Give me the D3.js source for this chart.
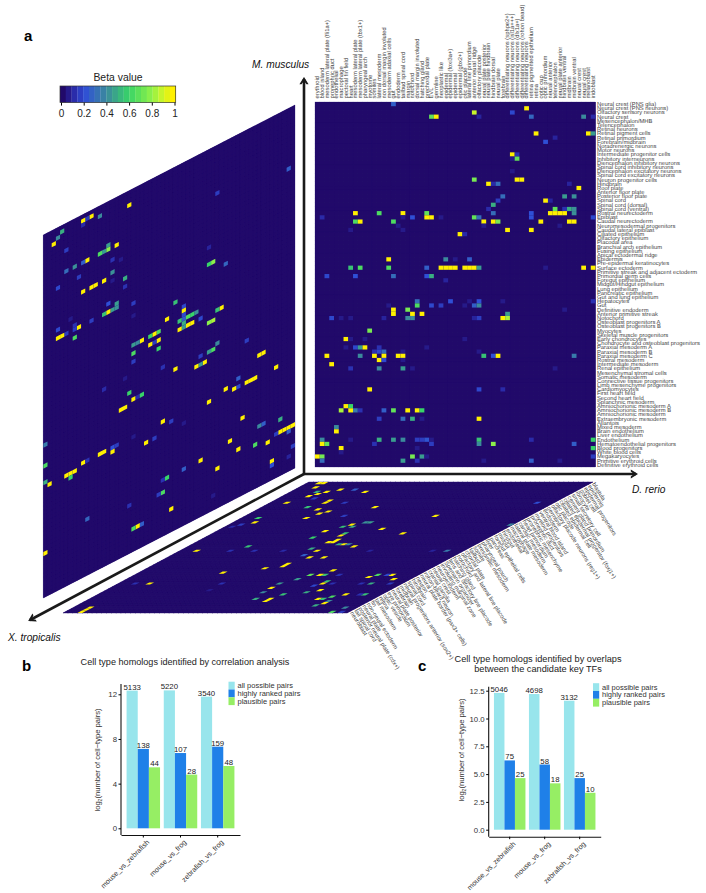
<!DOCTYPE html>
<html>
<head>
<meta charset="utf-8">
<script src="https://cdnjs.cloudflare.com/ajax/libs/d3/7.8.5/d3.min.js"></script>
<style>
  body { margin: 0; background: #fff; }
  svg { display: block; font-family: "Liberation Sans", Arial, sans-serif; }
  .tiny { font-size: 5.8px; fill: #444; text-rendering: geometricPrecision; }
</style>
</head>
<body>
<div id="chart"></div>
<script>
// cell types, one list per species
const mouseTypes = ["Neural crest (PNS glia)","Neural crest (PNS neurons)","Olfactory sensory neurons","Neural crest","Mesencephalon/MHB","Telencephalon","Retinal neurons","Retinal pigment cells","Retinal primordium","Forebrain/midbrain","Noradrenergic neurons","Motor neurons","Intermediate progenitor cells","Inhibitory interneurons","Diencephalon inhibitory neurons","Spinal cord inhibitory neurons","Diencephalon excitatory neurons","Spinal cord excitatory neurons","Neuron progenitor cells","Hindbrain","Roof plate","Anterior floor plate","Posterior floor plate","Spinal cord","Spinal cord (dorsal)","Spinal cord (ventral)","Rostral neurectoderm","Epiblast","Caudal neurectoderm","Neuromesodermal progenitors","Caudal lateral epiblast","Ciliated epithelium","Olfactory epithelium","Placodal area","Branchial arch epithelium","Fusing epithelium","Apical ectodermal ridge","Epidermis","Pre-epidermal keratinocytes","Surface ectoderm","Primitive streak and adjacent ectoderm","Primordial germ cells","Foregut epithelium","Midgut/Hindgut epithelium","Lung epithelium","Pancreatic epithelium","Gut and lung epithelium","Hepatocytes","Gut","Definitive endoderm","Anterior primitive streak","Notochord","Osteoblast progenitors A","Osteoblast progenitors B","Myocytes","Skeletal muscle progenitors","Early chondrocytes","Chondrocyte and osteoblast progenitors","Paraxial mesoderm A","Paraxial mesoderm B","Paraxial mesoderm C","Rostral mesoderm","Intermediate mesoderm","Renal epithelium","Mesenchymal stromal cells","Somatic mesoderm","Connective tissue progenitors","Limb mesenchyme progenitors","Cardiomyocytes","First heart field","Second heart field","Splanchnic mesoderm","Amniochorionic mesoderm A","Amniochorionic mesoderm B","Amniochorionic mesoderm","Extraembryonic mesoderm","Allantois","Mixed mesoderm","Brain endothelium","Liver endothelium","Endothelium","Hematoendothelial progenitors","Blood progenitors","White blood cells","Megakaryocytes","Primitive erythroid cells","Definitive erythroid cells"]
const fishTypes = ["erythroid","blood island","mesoderm lateral plate (fli1a+)","pronephric duct","endothelial","macrophage","pectoral fin field","heart","mesoderm lateral plate","mesoderm lateral plate (tbx1+)","pharyngeal arch","myotome","somites","lateral mesoderm","non dorsal margin involuted","mesoderm adaxial cells","gut","endoderm","tailbud spinal cord","margin","notochord","dorsal margin involuted","hatching gland","prechordal plate","EVL","germline","neoplastic like","epidermal","epidermal (foxi3a+)","epidermal","epidermal (gbx2+)","otic placode","lateral line primordium","anterior neural ridge","olfactory placode","neural plate posterior","neural plate hindbrain","hindbrain dorsal","neural plate","forebrain","differentiating neurons (sphpe2+)","differentiating neurons (isl1a+++)","differentiating neurons (dlx1a+)","differentiating neurons (rohon beard)","differentiating neurons","retina pigmented epithelium","retina","optic cup","optic primordium","neural anterior","telencephalon","neural plate anterior","hindbrain ventral","midbrain","midbrain ventral","neural crest","neural crest","melanoblast","iridoblast"]
const frogTypes = ["blastula","epidermis","epidermal progenitors","goblet cell","ionocyte","small secretory cell","cement gland primordium","ciliated epidermal progenitor (foxj1+)","ciliated epidermal cell","otic placode","olfactory placode neurons (reg1+)","germline","endoderm","ventral blood island","myeloid progenitors","pronephric duct","pronephric mesenchyme","heart primordium","cardiac mesoderm","lateral plate mesoderm","macrophage","endothelial","hindgut","midgut","foregut epithelial cells","pancreas","liver","pharyngeal pouch","presomitic mesoderm","somite","tailbud","chordal plate","olfactory and lateral line placode","notochord","hatching gland","lens and olfactory line placode","Spemann organizer","involuting marginal zone","neuroectoderm","neural crest","cranial ganglia","rohon-beard neuron","neural plate border (pax3+ cells)","neuron","hindbrain","spinal cord","neural progenitors anterior (sox2+)","midbrain","forebrain","neural plate posterior","eye primordium","optic vesicle","retina","tail mesoderm","fin","non-neural ectoderm","neural plate","posterior neural plate (cdx+)","tail spinal cord","neuroblast"]

// beta values that are not zero: [row, column, beta]
const mainCells = [[0,16,.25],[1,44,1],[2,33,.9],[2,41,.18],[3,24,.7],[3,25,1],[3,34,.08],[3,45,.28],[3,56,.4],[3,58,.1],[7,46,1],[7,57,1],[7,58,.45],[9,48,.2],[8,50,.08],[12,41,1],[12,42,.12],[13,41,.05],[13,42,.7],[16,41,.05],[18,33,.75],[18,42,1],[18,43,1],[19,36,1],[19,37,.1],[19,38,.3],[19,53,.08],[20,55,1],[22,39,.3],[22,52,.45],[22,54,.42],[23,38,.15],[23,48,1],[23,49,.08],[24,37,.5],[25,36,.1],[25,50,.7],[25,52,.12],[25,53,.5],[25,54,.42],[26,54,.42],[26,8,1],[26,13,.65],[26,18,1],[26,23,.7],[26,37,.3],[26,45,.2],[26,49,1],[26,50,1],[26,51,1],[26,52,1],[27,1,.1],[27,23,1],[27,24,1],[27,18,.05],[27,20,.2],[27,26,.05],[27,33,.7],[27,34,.3],[27,45,.2],[27,58,.18],[28,8,.65],[28,9,1],[28,16,.65],[28,35,1],[28,37,1],[28,38,.75],[28,47,1],[28,53,1],[28,54,1],[29,17,.05],[29,35,.05],[29,51,.05],[30,7,.05],[30,18,.05],[30,40,1],[30,45,1],[31,30,1],[31,31,.1],[37,15,1],[37,27,.4],[37,29,.05],[37,32,.25],[39,7,.55],[39,9,.65],[39,15,.65],[39,23,.25],[39,26,1],[39,27,1],[39,28,1],[39,29,1],[39,31,1],[39,32,1],[39,33,1],[39,34,.45],[39,48,.05],[39,56,1],[39,58,1],[41,2,.18],[41,8,.2],[41,16,.3],[41,23,.2],[41,24,.5],[42,27,.08],[47,21,.3],[47,28,.2],[47,32,.05],[47,34,.2],[47,39,.05],[47,58,.12],[48,15,.05],[48,21,.65],[48,24,.18],[48,26,.15],[48,31,.05],[48,33,.25],[48,34,.4],[49,16,1],[49,19,.75],[49,52,.05],[50,16,1],[50,20,1],[50,22,1],[50,40,.45],[51,3,.18],[51,5,.05],[51,7,.05],[51,14,.08],[51,19,.4],[51,20,.4],[51,33,.08],[51,34,.15],[51,39,1],[51,40,.85],[54,11,.75],[56,6,1],[56,7,.05],[56,10,.05],[56,31,.05],[58,6,.05],[58,8,.18],[58,9,.45],[58,10,1],[58,13,.12],[58,23,.05],[59,12,.12],[59,13,.18],[59,14,.3],[59,18,.05],[59,34,.05],[60,2,1],[60,9,.4],[60,12,1],[60,14,1],[60,17,1],[60,18,1],[60,35,.55],[60,37,.2],[60,38,1],[60,54,.35],[61,13,1],[61,14,.18],[61,18,.05],[62,3,1],[63,7,.12],[63,13,.4],[63,18,.45],[63,20,.05],[63,50,.05],[68,11,1],[68,34,.18],[68,39,.1],[72,6,1],[72,7,.6],[73,5,.85],[73,7,1],[73,8,.35],[73,9,.12],[73,14,.25],[73,16,.7],[73,19,1],[73,21,1],[73,22,.6],[75,13,.15],[75,18,.3],[75,20,.5],[75,22,.05],[75,34,1],[77,4,.4],[78,4,1],[80,1,.4],[80,7,.05],[80,13,.5],[80,16,.45],[80,18,.4],[80,21,.15],[80,22,.15],[80,23,.22],[80,24,.05],[80,34,.55],[80,45,.1],[80,58,.6],[81,1,1],[81,2,.7],[81,12,.12],[81,24,.15],[81,34,.4],[81,37,.8],[81,54,.25],[82,5,1],[82,21,.05],[82,58,.6],[83,5,.05],[84,0,1],[84,1,.75],[84,20,.75],[84,22,.45],[84,23,.05],[84,58,.15],[85,1,.3],[85,18,.45],[85,21,.12],[85,35,.05],[85,45,.25],[85,51,.05]]
const leftCells = [[14,58,.25],[11,41,.15],[3,20,1],[2,13,.4],[1,11,1],[1,10,.15],[1,9,1],[2,9,.1],[1,4,.5],[2,3,.4],[3,2,1],[6,5,.15],[10,15,.45],[11,15,.8],[11,17,1],[11,14,.45],[11,13,.65],[23,39,.08],[14,16,.12],[15,18,.05],[11,10,1],[11,9,.25],[11,7,.42],[11,5,.3],[17,16,.42],[27,40,.8],[27,39,.6],[29,43,.28],[14,8,.15],[20,19,.5],[19,16,.05],[18,14,1],[18,12,1],[18,11,1],[18,9,1],[22,19,.12],[14,3,.18],[24,15,.2],[27,21,.15],[32,31,.55],[25,17,.45],[26,17,.42],[26,16,.45],[26,15,1],[26,14,.55],[34,33,.18],[35,33,1],[36,33,.18],[37,33,.25],[38,33,.5],[30,21,.05],[39,42,1],[39,41,.55],[37,36,.42],[37,35,.6],[37,34,.65],[39,37,.18],[35,29,1],[37,32,.55],[41,40,.85],[41,39,.8],[26,11,.15],[23,6,.05],[25,7,.12],[26,8,1],[26,7,.15],[24,3,.18],[39,35,1],[39,34,1],[39,33,.45],[39,32,1],[26,5,.15],[26,4,1],[26,3,1],[28,7,.65],[37,27,.65],[37,26,1],[37,25,.6],[39,27,1],[39,26,.15],[39,25,1],[41,27,.6],[37,23,1],[37,22,.4],[37,21,.45],[39,21,.65],[47,41,.4],[48,40,.65],[48,39,.45],[50,48,.15],[48,37,.15],[41,21,.15],[46,28,.12],[48,31,1],[50,38,1],[50,37,.45],[50,36,1],[55,51,1],[55,52,1],[60,55,1],[58,46,.25],[60,48,1],[60,49,1],[60,50,1],[60,46,.18],[60,45,1],[59,43,1],[60,39,1],[68,47,1],[73,56,.5],[72,52,.25],[72,51,.4],[76,59,1],[76,58,1],[76,57,1],[76,56,1],[77,58,.25],[81,59,.15],[83,58,.08],[76,55,.15],[72,44,1],[75,46,1],[76,50,.65],[77,53,1],[82,54,1],[83,54,.2],[77,41,1],[73,37,1],[73,33,.25],[73,29,.6],[73,28,.12],[76,28,.65],[76,27,.15],[83,40,.05],[81,30,1],[75,20,.12],[73,10,.28],[81,23,.25],[81,22,1],[81,21,.65],[76,0,1],[50,0,.35],[55,0,.65],[59,0,.5],[60,1,1],[60,7,1],[60,6,1],[60,5,1],[61,6,.6],[59,9,1],[59,10,.12],[59,13,1],[59,14,1],[59,16,.2],[59,17,.15],[60,16,1],[59,21,.05],[62,24,1],[62,26,.15],[59,28,1],[60,30,.15],[62,33,.05],[44,19,.05],[44,14,.1],[48,20,.6],[50,21,1],[50,22,.1],[50,23,.6],[51,18,1],[51,19,1]]
const bottomCells = [[9,55,.2],[15,39,1],[19,58,.4],[23,39,1],[21,33,1],[11,23,1],[3,12,.25],[4,15,1],[3,9,1],[4,7,1],[5,6,1],[6,5,1],[0,2,1],[0,3,1],[2,3,1],[8,11,1],[9,11,1],[9,15,.15],[12,12,1],[13,15,1],[14,14,1],[11,9,.55],[15,20,.15],[16,13,1],[18,27,.42],[18,28,.45],[19,25,1],[20,24,.55],[20,26,.5],[22,22,1],[25,22,.6],[23,27,.55],[24,27,1],[26,28,1],[27,28,1],[27,27,1],[28,31,1],[28,30,.5],[29,34,1],[28,32,.4],[31,28,1],[30,26,.5],[34,29,1],[34,32,1],[33,27,.25],[31,39,.08],[31,52,.08],[31,55,.35],[40,39,1],[42,39,.55],[42,38,1],[42,36,.7],[42,42,.12],[43,49,1],[42,50,.65],[42,53,1],[42,52,.18],[44,55,1],[46,52,.5],[46,50,.12],[46,56,.15],[45,42,.55],[46,42,1],[47,41,.18],[46,44,.12],[50,42,.5],[49,44,1],[51,51,1],[51,55,.55],[51,54,.12],[52,49,.65],[53,47,1],[55,50,1],[54,50,.4],[56,49,.5],[57,56,.4],[59,55,.65],[59,57,.15],[57,3,1],[58,3,1],[59,3,1],[9,3,1],[16,3,.6],[18,4,1],[19,2,.15],[20,1,.1],[31,3,1],[31,10,.12],[29,12,.55],[31,15,.12],[31,21,.1],[39,24,1],[38,27,1],[37,27,1],[41,17,1],[46,6,1],[46,3,.12],[46,21,.12],[49,21,.05],[53,34,.5],[50,33,.4],[48,33,1],[46,33,.45],[53,37,1],[54,37,1],[51,38,.55],[44,35,.45],[4,5,.5],[7,7,.15],[53,48,.55]]

// bar charts
const pairTypes = ["all possible pairs","highly ranked pairs","plausible pairs"]
const comparisons = ["mouse_vs_zebrafish","mouse_vs_frog","zebrafish_vs_frog"]
const corrLog2 = [[12.33,7.11,5.46],[12.35,6.74,4.81],[11.79,7.31,5.58]]
const corrCounts = [[5133,138,44],[5220,107,28],[3540,159,48]]
const tfLog2 = [[12.3,6.23,4.64],[12.2,5.86,4.17],[11.6,4.64,3.32]]
const tfCounts = [[5046,75,25],[4698,58,18],[3132,25,10]]

const corrTicks = [0,4,8,12]
const tfTicks = [0,2.5,5,7.5,10,12.5]
const betaTicks = [0,.2,.4,.6,.8,1]

const barColors = ["#98e5ec","#1f80e8","#96ee64"]
const color = d3.scaleLinear()
  .domain([0,.1,.2,.4,.6,.8,.9,1])
  .range(["#21096a","#2a2aa8","#2f4fd6","#3b8a9c","#38d468","#8cf04a","#c8f52a","#fff000"])

let width = 706
let height = 893

let svg = d3.select("#chart").append("svg")
  .attr("width", width)
  .attr("height", height)

/*
  One heatmap. The group transform does the slanting, the scales only
  know about rows and columns.
*/
function heatmap(transform, rows, cols, cells, w, h) {
  let x = d3.scaleBand().domain(d3.range(cols.length)).range([0, w])
  let y = d3.scaleBand().domain(d3.range(rows.length)).range([0, h])
  let g = svg.append("g").attr("transform", transform)
  let grid = []
  y.domain().forEach(r => x.domain().forEach(c => grid.push([r, c])))

  // solid panel first, otherwise white shows through the cell seams
  g.append("rect")
    .attr("width", w)
    .attr("height", h)
    .attr("fill", color(0))

  g.selectAll(".bg").data(grid).enter().append("rect")
    .attr("class", "bg")
    .attr("x", d => x(d[1]))
    .attr("y", d => y(d[0]))
    .attr("width", x.bandwidth())
    .attr("height", y.bandwidth())
    .attr("fill", color(0))
    .attr("stroke", "#25106e")
    .attr("stroke-width", .25)

  g.selectAll(".hit").data(cells).enter().append("rect")
    .attr("class", "hit")
    .attr("x", d => x(d[1]))
    .attr("y", d => y(d[0]))
    .attr("width", x.bandwidth())
    .attr("height", y.bandwidth())
    .attr("fill", d => color(d[2]))
  return {x: x, y: y}
}

// main panel, zebrafish by mouse
let main = heatmap("translate(315,102)", mouseTypes, fishTypes, mainCells, 280.5, 365)
heatmap("matrix(1,-0.5166,0,1,43.3,235)", mouseTypes, frogTypes, leftCells, 251.7, 363)
let floorSkew = -1.878
let floor = heatmap("matrix(1,0," + floorSkew + ",1,309,482)", frogTypes, fishTypes, bottomCells, 284, 131)

svg.append("g").selectAll("text").data(mouseTypes).enter().append("text")
  .attr("class", "tiny")
  .attr("x", 597)
  .attr("y", (d, i) => 102 + main.y(i) + main.y.bandwidth() / 2 + 1.9)
  .text(d => d)

svg.append("g").selectAll("text").data(fishTypes).enter().append("text")
  .attr("class", "tiny")
  .attr("transform", (d, i) => "translate(" + (315 + main.x(i) + main.x.bandwidth() / 2 + 1.9) + ",98.5)rotate(-90)")
  .text(d => d)

svg.append("g").selectAll("text").data(frogTypes).enter().append("text")
  .attr("class", "tiny")
  .attr("transform", (d, i) => {
    let yc = floor.y(i) + floor.y.bandwidth() / 2
    return "translate(" + (309 + 284 + floorSkew * yc + 1) + "," + (482 + yc + 1) + ")rotate(58)"
  })
  .text(d => d)

// arrows between the panels
let defs = svg.append("defs")
defs.append("marker")
  .attr("id", "head")
  .attr("viewBox", "-6 -5 8 10")
  .attr("refX", 0)
  .attr("refY", 0)
  .attr("markerWidth", 3.4)
  .attr("markerHeight", 4)
  .attr("orient", "auto")
  .append("path")
  .attr("d", "M2,0 L-5,-4.4 L-5,-2.4 L-2,0 L-5,2.4 L-5,4.4 Z")
  .attr("fill", "#1a1a1a")

let arrows = [[304, 474, 304, 79], [304, 474, 636, 474], [304, 474, 30, 620]]
svg.append("g").selectAll("line").data(arrows).enter().append("line")
  .attr("x1", d => d[0])
  .attr("y1", d => d[1])
  .attr("x2", d => d[2])
  .attr("y2", d => d[3])
  .attr("stroke", "#1a1a1a")
  .attr("stroke-width", 2.6)
  .attr("marker-end", "url(#head)")

let species = [["M. musculus", 252, 68], ["D. rerio", 632, 493], ["X. tropicalis", 8, 641]]
svg.append("g").selectAll("text").data(species).enter().append("text")
  .attr("x", d => d[1])
  .attr("y", d => d[2])
  .attr("font-size", 10.2)
  .attr("font-style", "italic")
  .attr("fill", "#111")
  .text(d => d[0])

// colour bar, 20 steps
let bar = d3.scaleLinear().domain([0, 1]).range([61, 174.5])
let steps = d3.range(20)
svg.append("g").selectAll("rect").data(steps).enter().append("rect")
  .attr("x", d => 60 + d * 115.7 / 20)
  .attr("y", 86)
  .attr("width", 115.7 / 20 + .2)
  .attr("height", 16.6)
  .attr("fill", d => color(d / 19))
svg.append("rect")
  .attr("x", 60).attr("y", 86).attr("width", 115.7).attr("height", 16.6)
  .attr("fill", "none").attr("stroke", "#333").attr("stroke-width", .7)
let barAxis = svg.append("g")
  .attr("transform", "translate(0,102.6)")
  .call(d3.axisBottom(bar).tickValues(betaTicks).tickSize(3).tickPadding(4).tickFormat(d => d))
barAxis.select(".domain").remove()
barAxis.selectAll("text").attr("font-size", 10).attr("fill", "#222").attr("font-family", "Liberation Sans")
svg.append("text")
  .attr("x", 118).attr("y", 81)
  .attr("text-anchor", "middle")
  .attr("font-size", 10.4)
  .attr("fill", "#222")
  .text("Beta value")

// panel letters
let letters = [["a", 24, 41], ["b", 22, 671], ["c", 418, 671]]
svg.append("g").selectAll("text").data(letters).enter().append("text")
  .attr("x", d => d[1])
  .attr("y", d => d[2])
  .attr("font-size", 15)
  .attr("font-weight", "bold")
  .text(d => d[0])

/*
  Bar panels b and c
*/
function bars(o) {
  let x0 = d3.scaleBand().domain(comparisons).range([o.left, o.right]).paddingInner(.1).paddingOuter(.15)
  let x1 = d3.scaleBand().domain(pairTypes).range([0, x0.bandwidth()])
  let y = d3.scaleLinear().domain([0, o.ticks[o.ticks.length - 1]]).range([o.zero, o.top])

  let groups = svg.append("g").selectAll("g").data(comparisons).enter().append("g")
    .attr("transform", d => "translate(" + x0(d) + ",0)")

  groups.selectAll("rect").data((d, i) => pairTypes.map((p, j) => ({p: p, v: o.values[i][j]})))
    .enter().append("rect")
    .attr("x", d => x1(d.p))
    .attr("y", d => y(d.v))
    .attr("width", x1.bandwidth())
    .attr("height", d => o.zero - y(d.v))
    .attr("fill", (d, j) => barColors[j])

  groups.selectAll("text").data((d, i) => pairTypes.map((p, j) => ({p: p, v: o.values[i][j], n: o.counts[i][j]})))
    .enter().append("text")
    .attr("x", d => x1(d.p) + x1.bandwidth() / 2)
    .attr("y", d => y(d.v) - 1)
    .attr("text-anchor", "middle")
    .attr("font-size", 7.8)
    .attr("fill", "#222")
    .text(d => d.n)

  let yAxis = svg.append("g")
    .attr("transform", "translate(" + o.left + ",0)")
    .call(d3.axisLeft(y).tickValues(o.ticks).tickSize(2.5).tickPadding(1.5).tickFormat(o.format))
  yAxis.select(".domain").attr("d", "M0," + o.axisY + "V" + o.axisTop).attr("stroke-width", 1.1).attr("stroke", "#111")
  yAxis.selectAll("text").attr("font-size", 7.8).attr("fill", "#333").attr("font-family", "Liberation Sans")

  let xAxis = svg.append("g")
    .attr("transform", "translate(0," + o.axisY + ")")
    .call(d3.axisBottom(x0).tickSize(2.5).tickSizeOuter(0))
  xAxis.select(".domain").attr("stroke-width", 1.1).attr("stroke", "#111")
  xAxis.selectAll("text")
    .attr("font-size", 7.1)
    .attr("font-family", "Liberation Sans")
    .attr("fill", "#333")
    .attr("text-anchor", "end")
    .attr("transform", "rotate(-45)")
    .attr("x", -1)
    .attr("y", 10)
    .attr("dy", 0)

  svg.append("text")
    .attr("transform", "translate(" + o.yTitleX + "," + o.yTitleY + ")rotate(-90)")
    .attr("text-anchor", "middle")
    .attr("font-size", 7.6)
    .attr("fill", "#333")
    .html(o.yTitle)

  o.title.forEach((t, i) => {
    svg.append("text")
      .attr("x", o.titleX)
      .attr("y", o.titleY + i * 10.4)
      .attr("text-anchor", "middle")
      .attr("font-size", o.titleSize)
      .attr("fill", "#222")
      .text(t)
  })

  let legend = svg.append("g").selectAll("g").data(pairTypes).enter().append("g")
    .attr("transform", (d, i) => "translate(" + o.legendX + "," + (o.legendY + i * 7.8) + ")")
  legend.append("rect")
    .attr("y", -3.8)
    .attr("width", 6.2)
    .attr("height", 7.8)
    .attr("fill", (d, i) => barColors[i])
  legend.append("text")
    .attr("x", 9)
    .attr("y", 2.6)
    .attr("font-size", 7.5)
    .attr("fill", "#333")
    .text(d => d)
}

let log2Title = 'log<tspan dy="1.5" font-size="5">2</tspan><tspan dy="-1.5">(number of cell\u2212type pairs)</tspan>'

bars({
  values: corrLog2, counts: corrCounts, ticks: corrTicks, format: d => d,
  left: 121, right: 240, zero: 828.3, top: 694.3, axisY: 835, axisTop: 684,
  yTitle: log2Title, yTitleX: 100, yTitleY: 760,
  title: ["Cell type homologs identified by correlation analysis"], titleX: 185, titleY: 665, titleSize: 9.1,
  legendX: 228.5, legendY: 685.5
})
bars({
  values: tfLog2, counts: tfCounts, ticks: tfTicks, format: d3.format(".1f"),
  left: 488.7, right: 600.7, zero: 829.7, top: 690.7, axisY: 836.7, axisTop: 686.7,
  yTitle: log2Title, yTitleX: 464, yTitleY: 750,
  title: ["Cell type homologs identified by overlaps", "between the candidate key TFs"], titleX: 538, titleY: 662, titleSize: 9.2,
  legendX: 593, legendY: 687
})
</script>
</body>
</html>
